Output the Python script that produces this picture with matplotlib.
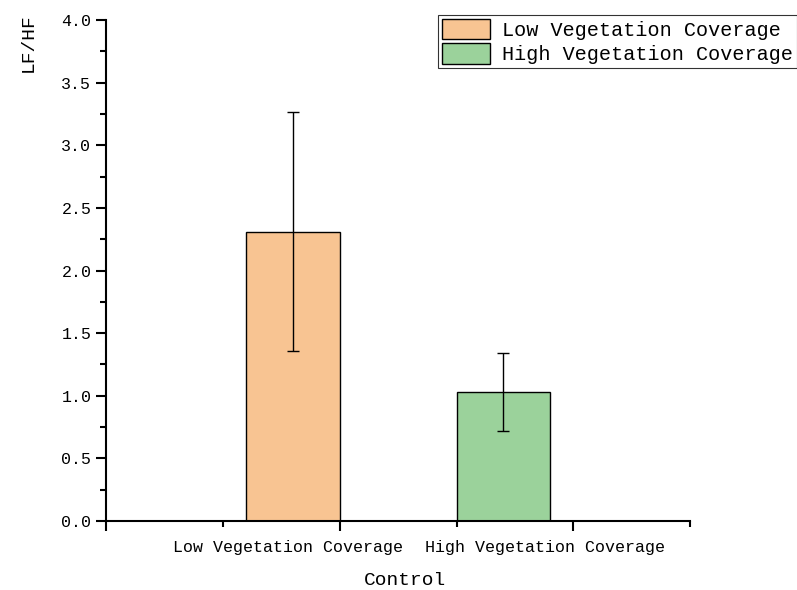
import matplotlib
matplotlib.use('Agg')
import matplotlib.pyplot as plt
from matplotlib.ticker import MultipleLocator, FormatStrFormatter
from matplotlib.patches import Patch

# data
groups = ['Low Vegetation Coverage', 'High Vegetation Coverage']
bar_pos = [0.8, 1.7]
label_pos = [0.78, 1.88]
lf_hf = [2.31, 1.03]
lf_hf_err = [0.955, 0.31]
colors = ['#F8C492', '#9BD29B']

plt.rcParams['font.family'] = ['Liberation Mono', 'DejaVu Sans']

fig = plt.figure(figsize=(7.97, 5.90), dpi=100)
ax = fig.add_axes([0.133, 0.117, 0.733, 0.849])

ax.bar(bar_pos, lf_hf, width=0.4, color=colors, edgecolor='black', linewidth=1.0,
       yerr=lf_hf_err, error_kw=dict(ecolor='black', elinewidth=1.0, capsize=4.5, capthick=1.0))

ax.set_xlim(0, 2.5)
ax.set_ylim(0, 4.0)
ax.spines['top'].set_visible(False)
ax.spines['right'].set_visible(False)
ax.spines['left'].set_linewidth(1.5)
ax.spines['bottom'].set_linewidth(1.5)

ax.yaxis.set_major_locator(MultipleLocator(0.5))
ax.yaxis.set_minor_locator(MultipleLocator(0.25))
ax.yaxis.set_major_formatter(FormatStrFormatter('%.1f'))
ax.xaxis.set_major_locator(MultipleLocator(1.0))
ax.xaxis.set_minor_locator(MultipleLocator(0.5))
ax.set_xticklabels([])
ax.tick_params(axis='both', which='major', direction='out', length=7, width=1.5, labelsize=12)
ax.tick_params(axis='both', which='minor', direction='out', length=4, width=1.5)
ax.tick_params(axis='x', which='major', labelbottom=False)

# category names sit apart from the tick marks, as in the original
for x, name in zip(label_pos, groups):
    ax.text(x, -0.052, name, transform=ax.get_xaxis_transform(), ha='center', va='center', fontsize=12)

ax.set_xlabel('Control', fontsize=14)
ax.xaxis.set_label_coords(0.512, -0.102)
ax.xaxis.label.set_va('top')
ax.set_ylabel('LF/HF', fontsize=14, loc='top')
ax.yaxis.set_label_coords(-0.118, 1.014)

handles = [Patch(facecolor=c, edgecolor='black', linewidth=1.0) for c in colors]
leg = fig.legend(handles, groups, loc='upper left', bbox_to_anchor=(0.549, 0.975),
                 fontsize=14.5, frameon=True, fancybox=False, shadow=False,
                 handlelength=2.4, handleheight=1.2, handletextpad=0.6,
                 labelspacing=0.15, borderpad=0.2, borderaxespad=0)
leg.get_frame().set_edgecolor('black')
leg.get_frame().set_linewidth(0.8)

fig.savefig('out.png', dpi=100)
